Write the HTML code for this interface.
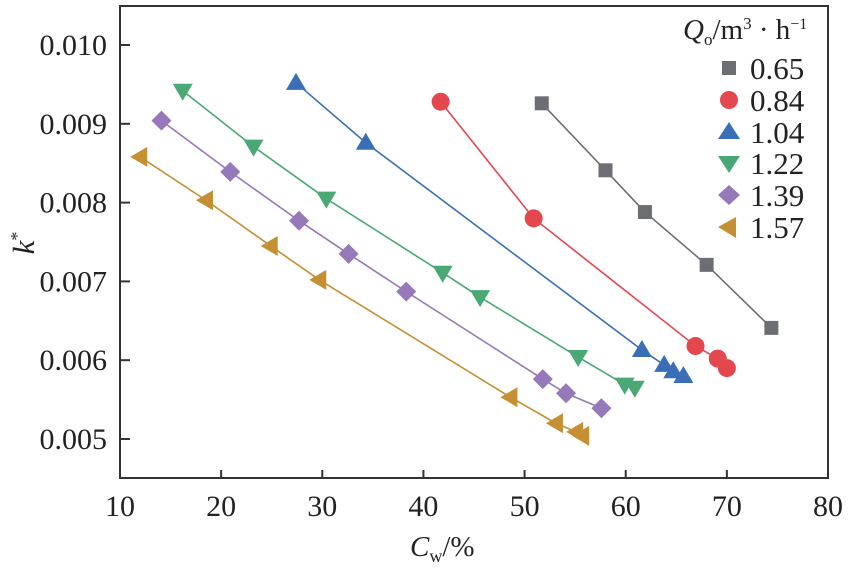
<!DOCTYPE html>
<html><head><meta charset="utf-8"><style>
body{margin:0;background:#fff;}
text{font-family:"Liberation Serif","DejaVu Serif",serif !important;}
</style></head><body>
<svg id="chart" width="849" height="566" xmlns="http://www.w3.org/2000/svg" font-family="Liberation Serif, DejaVu Serif, serif"></svg>
<script>
const xTicks=[10,20,30,40,50,60,70,80];
const yTicks=[0.005,0.006,0.007,0.008,0.009,0.010];
const yTickLabels=["0.005","0.006","0.007","0.008","0.009","0.010"];
const seriesNames=["0.65","0.84","1.04","1.22","1.39","1.57"];
const xs065=[51.7,58.0,61.9,68.0,74.4];
const ys065=[0.00926,0.00841,0.00788,0.00721,0.00641];
const xs084=[41.7,50.9,66.9,69.1,70.0];
const ys084=[0.00928,0.00780,0.00618,0.00602,0.00590];
const xs104=[27.4,34.3,61.6,63.8,64.7,65.7];
const ys104=[0.00952,0.00876,0.00613,0.00594,0.00586,0.00580];
const xs122=[16.2,23.2,30.4,41.9,45.6,55.3,59.9,60.9];
const ys122=[0.00942,0.00871,0.00805,0.00711,0.00680,0.00604,0.00569,0.00565];
const xs139=[14.1,20.9,27.7,32.6,38.3,51.8,54.1,57.6];
const ys139=[0.00904,0.00839,0.00777,0.00735,0.00687,0.00576,0.00558,0.00539];
const xs157=[12.0,18.5,24.9,29.7,48.6,53.1,55.1,55.7];
const ys157=[0.00858,0.00803,0.00745,0.00702,0.00553,0.00520,0.00509,0.00504];

const L=120,R=828,T=6,B=478;
const xMin=10,xMax=80,yMin=0.004505,yMax=0.010495;
const sx=v=>L+(v-xMin)/(xMax-xMin)*(R-L);
const sy=v=>B-(v-yMin)/(yMax-yMin)*(B-T);
const svg=document.getElementById('chart');
const NS="http://www.w3.org/2000/svg";
const FF="Liberation Serif, DejaVu Serif, serif";
function mk(tag,attrs,parent){const e=document.createElementNS(NS,tag);for(const k in attrs)e.setAttribute(k,attrs[k]);(parent||svg).appendChild(e);return e;}

const colors=["#6d6e71","#e5474f","#3a6fb7","#4aa874","#9579b8","#c49033"];
const shapes=["square","circle","up","down","diamond","left"];
const XS=[xs065,xs084,xs104,xs122,xs139,xs157];
const YS=[ys065,ys084,ys104,ys122,ys139,ys157];

function marker(shape,cx,cy,color,parent){
  let e;
  if(shape==="square") e=mk('rect',{x:cx-7,y:cy-7,width:14,height:14,fill:color},parent);
  else if(shape==="circle") e=mk('circle',{cx:cx,cy:cy,r:9,fill:color},parent);
  else if(shape==="up") e=mk('polygon',{points:`${cx-10},${cy+7} ${cx+10},${cy+7} ${cx},${cy-10}`,fill:color},parent);
  else if(shape==="down") e=mk('polygon',{points:`${cx-10},${cy-7} ${cx+10},${cy-7} ${cx},${cy+10}`,fill:color},parent);
  else if(shape==="diamond") e=mk('polygon',{points:`${cx},${cy-10} ${cx+10},${cy} ${cx},${cy+10} ${cx-10},${cy}`,fill:color},parent);
  else e=mk('polygon',{points:`${cx+7},${cy-10} ${cx+7},${cy+10} ${cx-10},${cy}`,fill:color},parent);
  return e;
}

for(let s=0;s<6;s++){
  const g=mk('g',{});
  
  
  const pts=XS[s].map((x,i)=>sx(x)+','+sy(YS[s][i])).join(' ');
  const pl=mk('polyline',{points:pts,fill:'none',stroke:colors[s],'stroke-width':1.6},g);
  
  
  XS[s].forEach((x,i)=>{
    const m=marker(shapes[s],sx(x),sy(YS[s][i]),colors[s],g);
    
    
  });
}

const frame=mk('rect',{x:L,y:T,width:R-L,height:B-T,fill:'none',stroke:'#333','stroke-width':2});



xTicks.forEach(v=>{
  const t=mk('line',{x1:sx(v),x2:sx(v),y1:B,y2:B-8,stroke:'#333','stroke-width':2});
  
  
  const lb=mk('text',{x:sx(v),y:B+38,'text-anchor':'middle','font-size':30,'font-family':FF,fill:'#222'});
  lb.textContent=v;
  
  
});
yTicks.forEach((v,i)=>{
  const t=mk('line',{x1:L,x2:L+10,y1:sy(v),y2:sy(v),stroke:'#333','stroke-width':2});
  
  
  const lb=mk('text',{x:L-13,y:sy(v)+10,'text-anchor':'end','font-size':30,'font-family':FF,fill:'#222'});
  lb.textContent=yTickLabels[i];
  
  
});
</script>
<svg style="position:absolute;left:0;top:0" width="849" height="566" xmlns="http://www.w3.org/2000/svg">
  <text x="410" y="556" font-size="29" font-family="Liberation Serif, DejaVu Serif, serif" fill="#222"><tspan font-style="italic">C</tspan><tspan font-size="18" dy="6">w</tspan><tspan dy="-6">/%</tspan></text>
  <text transform="translate(34,243) rotate(-90)" font-size="31" font-family="Liberation Serif, DejaVu Serif, serif" fill="#222" text-anchor="middle"><tspan font-style="italic">k</tspan><tspan font-size="18" dy="-11">*</tspan></text>
  <g font-family="Liberation Serif, DejaVu Serif, serif" fill="#222">
    <text x="683" y="39" font-size="29"><tspan font-style="italic">Q</tspan><tspan font-size="17" dy="6">o</tspan><tspan dy="-6">/m</tspan><tspan font-size="17" dy="-10">3</tspan><tspan dy="10"> · h</tspan><tspan font-size="16" dy="-10">−1</tspan></text>
    <g><rect x="722" y="61" width="14" height="14" fill="#6d6e71"/><text x="750" y="79" font-size="31">0.65</text></g>
    <g><circle cx="729" cy="100" r="9" fill="#e5474f"/><text x="750" y="111" font-size="31">0.84</text></g>
    <g><polygon points="718,139 740,139 729,122" fill="#3a6fb7"/><text x="750" y="143" font-size="31">1.04</text></g>
    <g><polygon points="718,156 740,156 729,173" fill="#4aa874"/><text x="750" y="174" font-size="31">1.22</text></g>
    <g><polygon points="729,185 740,195 729,205 718,195" fill="#9579b8"/><text x="750" y="206" font-size="31">1.39</text></g>
    <g><polygon points="736,217 736,238 718,227" fill="#c49033"/><text x="750" y="238" font-size="31">1.57</text></g>
  </g>
</svg>
</body></html>
